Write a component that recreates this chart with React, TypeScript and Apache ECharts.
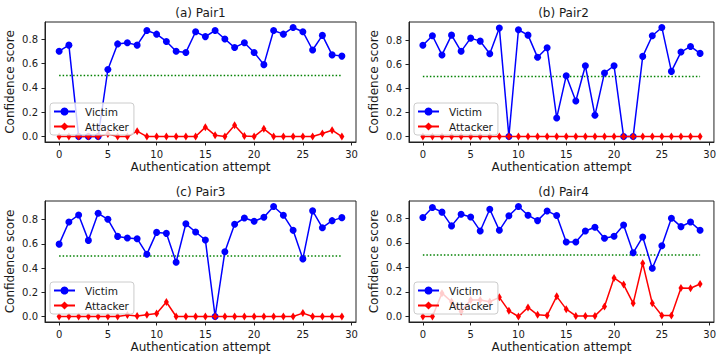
import React, { useEffect, useRef } from 'react';
import * as echarts from 'echarts';

const attempts = Array.from({ length: 30 }, (_, i) => i);
const titles = ['(a) Pair1', '(b) Pair2', '(c) Pair3', '(d) Pair4'];

const victimA = [0.70, 0.75, 0.0, 0.0, 0.0, 0.55, 0.76, 0.77, 0.75, 0.87, 0.84, 0.78, 0.70, 0.69, 0.86, 0.82, 0.87, 0.80, 0.73, 0.77, 0.69, 0.59, 0.87, 0.84, 0.895, 0.86, 0.71, 0.83, 0.67, 0.66];
const attackerA = [0, 0, 0, 0, 0, 0.02, 0, 0, 0.044, 0, 0, 0, 0, 0, 0, 0.077, 0.01, 0, 0.093, 0.005, 0, 0.063, 0, 0, 0, 0, 0, 0.025, 0.052, 0];

const victimB = [0.76, 0.84, 0.68, 0.845, 0.71, 0.82, 0.795, 0.69, 0.905, 0.0, 0.89, 0.845, 0.66, 0.74, 0.155, 0.507, 0.296, 0.59, 0.177, 0.53, 0.59, 0.0, 0.0, 0.668, 0.84, 0.909, 0.543, 0.704, 0.751, 0.693];
const attackerB = [0, 0, 0, 0, 0, 0, 0, 0, 0, 0, 0, 0, 0, 0, 0, 0, 0, 0, 0, 0, 0, 0, 0, 0, 0, 0, 0, 0, 0, 0];

const victimC = [0.598, 0.781, 0.839, 0.629, 0.853, 0.803, 0.662, 0.648, 0.643, 0.515, 0.695, 0.687, 0.449, 0.766, 0.698, 0.632, 0.0, 0.535, 0.762, 0.814, 0.787, 0.82, 0.909, 0.837, 0.712, 0.476, 0.873, 0.734, 0.792, 0.817];
const attackerC = [0, 0, 0, 0, 0, 0, 0, 0.012, 0.005, 0.015, 0.025, 0.12, 0, 0, 0, 0, 0, 0, 0, 0, 0, 0, 0, 0, 0, 0.028, 0, 0, 0, 0];

const victimD = [0.806, 0.888, 0.85, 0.738, 0.833, 0.811, 0.697, 0.874, 0.702, 0.82, 0.896, 0.825, 0.781, 0.86, 0.822, 0.607, 0.607, 0.697, 0.727, 0.637, 0.653, 0.746, 0.519, 0.648, 0.393, 0.577, 0.801, 0.732, 0.77, 0.702];
const attackerD = [0.0, 0.0, 0.19, 0.12, 0.041, 0.134, 0.134, 0.12, 0.156, 0.046, 0.0, 0.074, 0.014, 0.008, 0.164, 0.06, 0.005, 0.005, 0.005, 0.082, 0.314, 0.26, 0.107, 0.434, 0.107, 0.008, 0.008, 0.232, 0.23, 0.265];

const victims = [victimA, victimB, victimC, victimD];
const attackers = [attackerA, attackerB, attackerC, attackerD];
const threshold = 0.5;
const xTicks = [0, 5, 10, 15, 20, 25, 30];
const yTicks = [0, 0.2, 0.4, 0.6, 0.8];

const grids = [
  { left: 45, top: 22, width: 311, height: 120 },
  { left: 409, top: 22, width: 309, height: 120 },
  { left: 45, top: 201, width: 311, height: 121 },
  { left: 409, top: 201, width: 309, height: 121 },
];

const FONT = 'DejaVu Sans';
const TXT = '#1a1a1a';

function buildOption() {
  const title: any[] = [];
  const legend: any[] = [];
  const grid: any[] = [];
  const xAxis: any[] = [];
  const yAxis: any[] = [];
  const series: any[] = [];
  const xMin = attempts[0] - 0.05 * (attempts[attempts.length - 1] - attempts[0]);
  const xMax = attempts[attempts.length - 1] + 0.05 * (attempts[attempts.length - 1] - attempts[0]);

  grids.forEach((g, i) => {
    const all = [...victims[i], ...attackers[i], threshold];
    const lo = Math.min(...all);
    const hi = Math.max(...all);
    const pad = 0.05 * (hi - lo);
    grid.push({ ...g, show: true, borderColor: '#222', borderWidth: 1, backgroundColor: 'transparent' });
    title.push({
      text: titles[i],
      left: g.left + g.width / 2,
      top: g.top - 15,
      textAlign: 'center',
      padding: 0,
      textStyle: { fontFamily: FONT, fontSize: 12, fontWeight: 'normal', color: TXT },
    });
    legend.push({
      data: ['Victim', 'Attacker'],
      orient: 'vertical',
      left: g.left + 5,
      top: g.top + 81,
      padding: [3, 5, 3, 3],
      itemGap: 4,
      itemWidth: 21,
      itemHeight: 10,
      z: 20,
      zlevel: 0,
      backgroundColor: 'rgba(255,255,255,0.8)',
      borderColor: '#cccccc',
      borderWidth: 1,
      borderRadius: 3,
      textStyle: { fontFamily: FONT, fontSize: 10.5, color: TXT, padding: [0, 0, 0, 5] },
    });
    xAxis.push({
      type: 'value',
      gridIndex: i,
      min: xMin,
      max: xMax,
      name: 'Authentication attempt',
      nameLocation: 'middle',
      nameGap: 19,
      nameTextStyle: { fontFamily: FONT, fontSize: 12, color: TXT },
      axisLine: { show: true, onZero: false, lineStyle: { color: '#222', width: 1 } },
      axisTick: { show: true, length: 3.5, customValues: xTicks, lineStyle: { color: '#222' } },
      axisLabel: { customValues: xTicks, margin: 7, fontFamily: FONT, fontSize: 10, color: TXT, formatter: (v: number) => String(v) },
      splitLine: { show: false },
    });
    yAxis.push({
      type: 'value',
      gridIndex: i,
      min: lo - pad,
      max: hi + pad,
      name: 'Confidence score',
      nameLocation: 'middle',
      nameGap: 29,
      nameTextStyle: { fontFamily: FONT, fontSize: 12, color: TXT },
      axisLine: { show: true, onZero: false, lineStyle: { color: '#222', width: 1 } },
      axisTick: { show: true, length: 3.5, customValues: yTicks, lineStyle: { color: '#222' } },
      axisLabel: { customValues: yTicks, margin: 7, fontFamily: FONT, fontSize: 10, color: TXT, formatter: (v: number) => v.toFixed(1) },
      splitLine: { show: false },
    });
    series.push({
      name: 'Victim',
      type: 'line',
      xAxisIndex: i,
      yAxisIndex: i,
      data: victims[i].map((v, k) => [attempts[k], v]),
      color: '#0000ff',
      symbol: 'circle',
      symbolSize: 7,
      lineStyle: { width: 1.5, color: '#0000ff' },
      itemStyle: { color: '#0000ff' },
      z: 3,
    });
    series.push({
      name: 'Attacker',
      type: 'line',
      xAxisIndex: i,
      yAxisIndex: i,
      data: attackers[i].map((v, k) => [attempts[k], v]),
      color: '#ff0000',
      symbol: 'diamond',
      symbolSize: [5, 8],
      lineStyle: { width: 1.5, color: '#ff0000' },
      itemStyle: { color: '#ff0000' },
      z: 4,
    });
    series.push({
      name: 'Threshold',
      type: 'line',
      xAxisIndex: i,
      yAxisIndex: i,
      data: [[attempts[0], threshold], [attempts[attempts.length - 1], threshold]],
      symbol: 'none',
      color: '#008000',
      lineStyle: { width: 1.5, color: '#008000', type: [1.5, 2] },
      z: 2,
    });
  });

  return { animation: false, backgroundColor: '#ffffff', title, legend, grid, xAxis, yAxis, series };
}

export default function App() {
  const ref = useRef<HTMLDivElement>(null);
  useEffect(() => {
    if (!ref.current) return;
    const chart = echarts.init(ref.current, undefined, { renderer: 'svg' });
    chart.setOption(buildOption() as any);
    return () => chart.dispose();
  }, []);
  return <div ref={ref} style={{ position: 'fixed', left: 0, top: 0, width: 719, height: 358 }} />;
}
